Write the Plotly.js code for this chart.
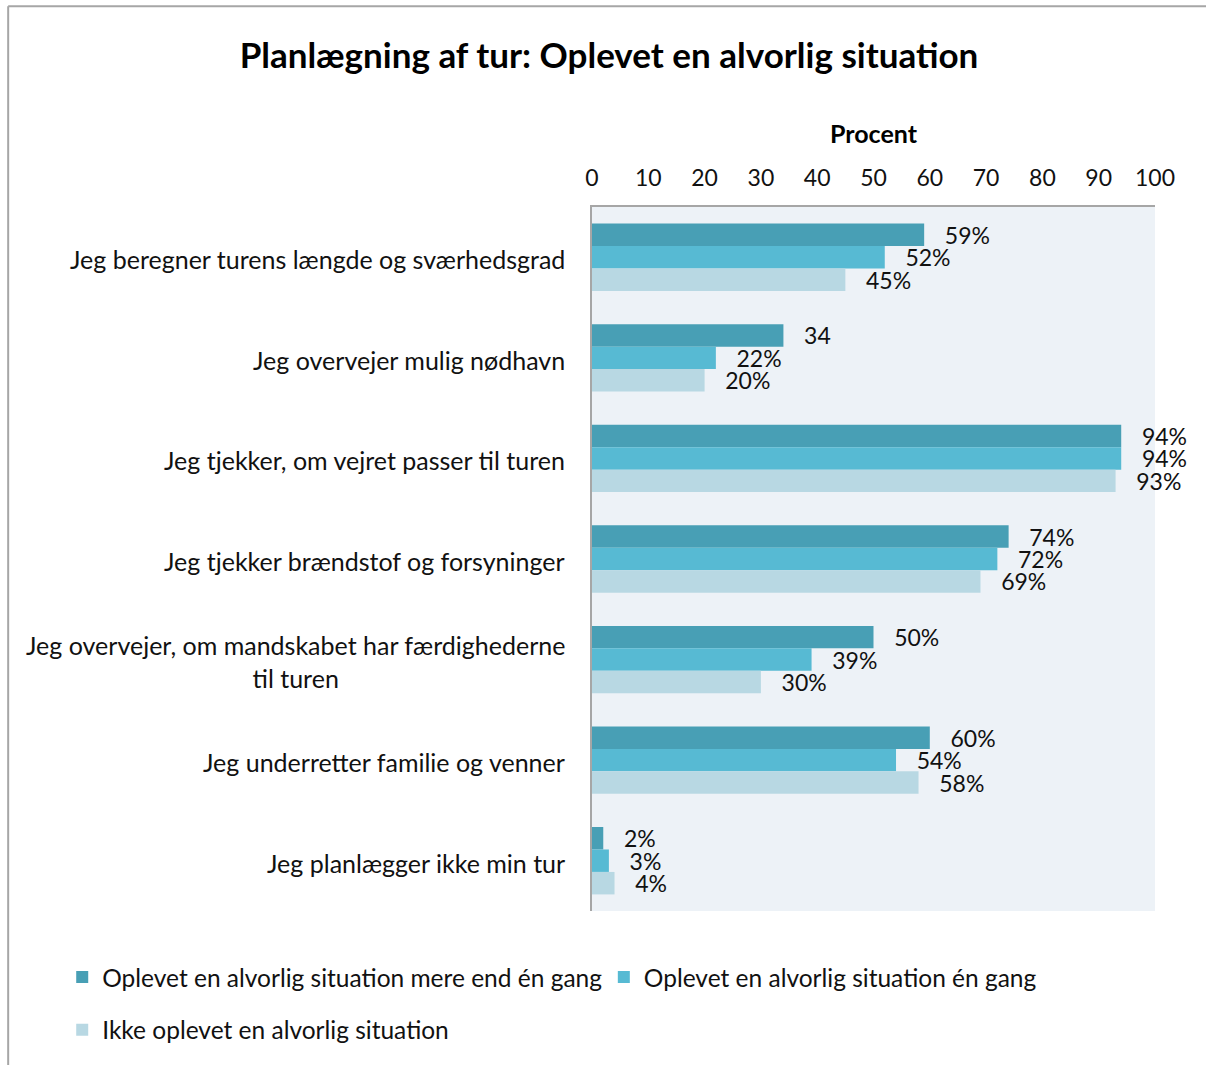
<!DOCTYPE html>
<html>
<head>
<meta charset="utf-8">
<script src="https://cdn.plot.ly/plotly-3.0.1.min.js"></script>
<style>html,body{margin:0;padding:0;background:#fff;}#chart{width:1206px;height:1065px;}</style>
</head>
<body>
<div id="chart"></div>
<script>
const categories = [
  "Jeg beregner turens længde og sværhedsgrad",
  "Jeg overvejer mulig nødhavn",
  "Jeg tjekker, om vejret passer til turen",
  "Jeg tjekker brændstof og forsyninger",
  "Jeg overvejer, om mandskabet har færdighederne<br>til turen",
  "Jeg underretter familie og venner",
  "Jeg planlægger ikke min tur"
];
const seriesNames = [
  "Oplevet en alvorlig situation mere end én gang",
  "Oplevet en alvorlig situation én gang",
  "Ikke oplevet en alvorlig situation"
];
const valuesMore = [59, 34, 94, 74, 50, 60, 2];
const valuesOnce = [52, 22, 94, 72, 39, 54, 3];
const valuesNever = [45, 20, 93, 69, 30, 58, 4];
const labelsMore = ["59%", "34", "94%", "74%", "50%", "60%", "2%"];
const labelsOnce = ["52%", "22%", "94%", "72%", "39%", "54%", "3%"];
const labelsNever = ["45%", "20%", "93%", "69%", "30%", "58%", "4%"];
const tickVals = [0, 10, 20, 30, 40, 50, 60, 70, 80, 90, 100];

const colors = ["#489fb5", "#57bad3", "#b8d8e3"];
const FONT = "Lato, 'Open Sans', sans-serif";
const pad = "\u00a0\u00a0\u00a0";

function mk(i, vals, labs, legendId) {
  return {
    type: "bar", orientation: "h", name: seriesNames[i],
    y: categories, x: vals,
    text: labs.map(t => pad + t),
    textposition: "outside", constraintext: "none", cliponaxis: false,
    textfont: {family: FONT, size: 23, color: "#111"},
    marker: {color: colors[i], line: {width: 0}},
    legend: legendId, hoverinfo: "x+y"
  };
}
const data = [
  mk(0, valuesMore, labelsMore, "legend"),
  mk(1, valuesOnce, labelsOnce, "legend3"),
  mk(2, valuesNever, labelsNever, "legend2")
];

const annotations = categories.map(c => ({
  xref: "paper", yref: "y", x: -0.044, y: c, text: c, yshift: -2,
  xanchor: "right", yanchor: "middle", align: "center", showarrow: false,
  font: {family: FONT, size: 25, color: "#111"}
}));

const legendFont = {family: FONT, size: 24.5, color: "#111"};
const layout = {
  width: 1206, height: 1065,
  margin: {l: 592, r: 51, t: 207, b: 150},
  paper_bgcolor: "#ffffff", plot_bgcolor: "#edf2f7",
  font: {family: FONT, color: "#111"},
  title: {text: "<b>Planlægning af tur: Oplevet en alvorlig situation</b>",
    font: {family: FONT, size: 35, color: "#000"},
    x: 0.505, xanchor: "center", y: 0.948, yanchor: "middle"},
  barmode: "group", bargap: 0.33, bargroupgap: 0,
  xaxis: {side: "top", range: [0, 100], tickvals: tickVals, showgrid: false, zeroline: false,
    showline: true, linecolor: "#a6a6a6", linewidth: 2, ticks: "", ticklabelstandoff: 10,
    tickfont: {family: FONT, size: 23, color: "#111"},
    title: {text: "<b>Procent</b>", font: {family: FONT, size: 25, color: "#000"}, standoff: 12},
    fixedrange: true},
  yaxis: {autorange: "reversed", showticklabels: false, showgrid: false, zeroline: false,
    showline: true, linecolor: "#a6a6a6", linewidth: 2, ticks: "", fixedrange: true},
  showlegend: true,
  legend: {orientation: "h", x: -0.941, xanchor: "left", y: -0.062, yanchor: "top",
    font: legendFont, bgcolor: "rgba(0,0,0,0)", itemclick: false},
  legend3: {orientation: "h", x: 0.021, xanchor: "left", y: -0.062, yanchor: "top",
    font: legendFont, bgcolor: "rgba(0,0,0,0)", itemclick: false},
  legend2: {orientation: "h", x: -0.941, xanchor: "left", y: -0.137, yanchor: "top",
    font: legendFont, bgcolor: "rgba(0,0,0,0)", itemclick: false},
  annotations: annotations,
  shapes: [
    {type: "line", xref: "paper", yref: "paper", x0: -1.037, x1: 1.1, y0: 1.285, y1: 1.285,
      line: {color: "#a6a6a6", width: 2}},
    {type: "line", xref: "paper", yref: "paper", x0: -1.037, x1: -1.037, y0: 1.285, y1: -0.22,
      line: {color: "#a6a6a6", width: 2}}
  ]
};

Plotly.newPlot("chart", data, layout, {displayModeBar: false, staticPlot: false});
</script>
</body>
</html>
